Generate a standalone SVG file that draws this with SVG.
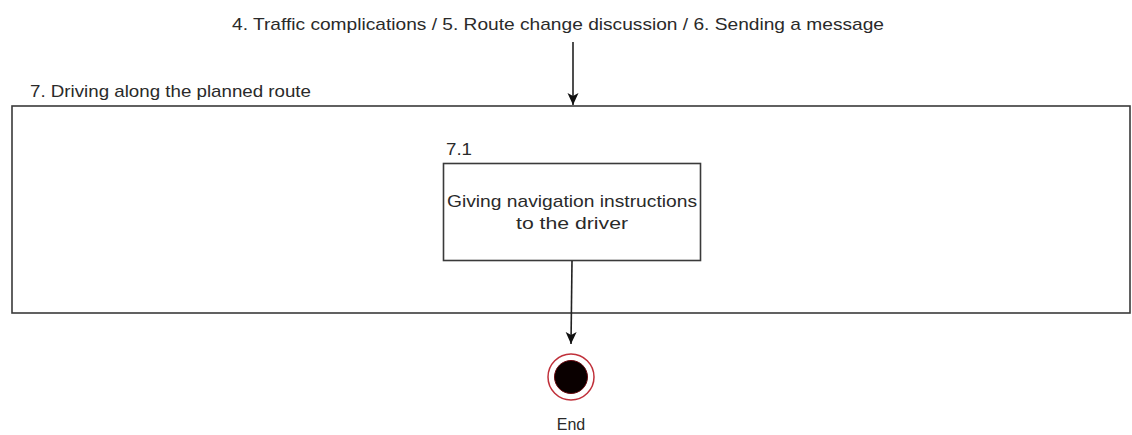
<svg xmlns="http://www.w3.org/2000/svg" width="1132" height="435" viewBox="0 0 1132 435">
<defs>
<style>
.lbl{font-family:"Liberation Sans",Arial,sans-serif;font-size:17px;fill:#2a2a2a}
.sm{font-size:16px}
.box{fill:#fff;stroke:#3a3a3a;stroke-width:1.6}
.edge{stroke:#222;stroke-width:1.6;fill:none}
</style>
<marker id="arr" viewBox="0 0 12 12" refX="12" refY="6" markerWidth="12" markerHeight="12" markerUnits="userSpaceOnUse" orient="auto">
<path d="M0,0.5 L12,6 L0,11.5 L3,6 Z" fill="#111"/>
</marker>
</defs>
<rect width="1132" height="435" fill="#fff"/>
<g id="source-label">
<text class="lbl" x="232" y="30" textLength="652" lengthAdjust="spacingAndGlyphs">4. Traffic complications / 5. Route change discussion / 6. Sending a message</text>
</g>
<g id="state7">
<rect class="box" x="12" y="106" width="1118" height="207"/>
<text class="lbl" x="30" y="97" textLength="281" lengthAdjust="spacingAndGlyphs">7. Driving along the planned route</text>
</g>
<g id="state71">
<rect class="box" x="443.5" y="163.5" width="257" height="97"/>
<text class="lbl sm" x="446" y="155" textLength="26" lengthAdjust="spacingAndGlyphs">7.1</text>
<text class="lbl" x="572" y="207" text-anchor="middle" textLength="250" lengthAdjust="spacingAndGlyphs">Giving navigation instructions</text>
<text class="lbl" x="572" y="229" text-anchor="middle" textLength="112" lengthAdjust="spacingAndGlyphs">to the driver</text>
</g>
<g id="end">
<circle cx="571" cy="377" r="23" fill="#fff" stroke="#c0303a" stroke-width="1.5"/>
<circle cx="571" cy="377" r="16.5" fill="#0a0000" stroke="#6a0a10" stroke-width="1"/>
<text class="lbl sm" x="571" y="430" text-anchor="middle">End</text>
</g>
<g id="connectors">
<line class="edge" x1="573" y1="42" x2="573" y2="105" marker-end="url(#arr)"/>
<line class="edge" x1="572" y1="261" x2="571" y2="344" marker-end="url(#arr)"/>
</g>
</svg>
